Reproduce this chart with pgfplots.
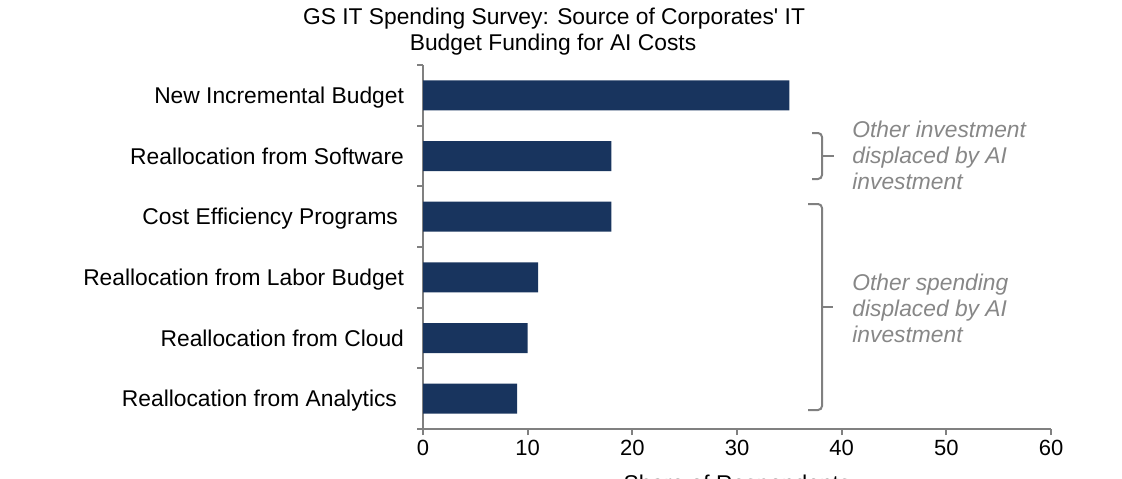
\documentclass[border=0pt]{standalone}
\usepackage{pgfplots}
\pgfplotsset{compat=1.18}
\usepackage{fontspec}
\setmainfont{Liberation Sans}
\definecolor{navy}{RGB}{24,52,94}
\definecolor{axgray}{RGB}{128,128,128}
\definecolor{txtgray}{RGB}{135,135,135}
\begin{document}
\begin{tikzpicture}
\useasboundingbox (0,0) rectangle (561pt,-239pt);
\clip (0,0) rectangle (561pt,-239pt);
\begin{axis}[
  at={(211.5pt,-214.5pt)}, anchor=south west,
  scale only axis, width=314pt, height=182pt,
  xmin=0, xmax=60, ymin=-0.5, ymax=5.5, y dir=reverse,
  xbar, bar width=15pt,
  axis lines*=left, axis line style={-, draw=axgray, line width=0.9pt},
  xtick={0,10,...,60},
  ytick={-0.5,0.5,...,5.5}, yticklabels={},
  tick align=outside, major tick length=3pt,
  tick style={draw=axgray, line width=0.9pt},
  extra y ticks={0,1,2,3,4,5},
  extra y tick labels={New Incremental Budget, Reallocation from Software, Cost Efficiency Programs\hspace*{3pt}, Reallocation from Labor Budget, Reallocation from Cloud, Reallocation from Analytics\hspace*{3.5pt}},
  extra y tick style={tick style={draw=none}},
  yticklabel style={font=\fontsize{11.4}{13}\selectfont, xshift=-3pt, text height=8.2pt, text depth=0pt},
  xticklabel style={font=\fontsize{11}{13}\selectfont, yshift=1pt},
  /pgf/number format/assume math mode=true,
  clip=false,
]
\addplot[fill=navy, draw=none] coordinates {(35,0) (18,1) (18,2) (11,3) (10,4) (9,5)};
\end{axis}
\begin{scope}[x=0.5pt,y=-0.5pt, font=\fontsize{11.4}{13}\selectfont]
\node[anchor=base] at (554,24) {GS IT Spending Survey: Source of Corporates\textquotesingle{} IT};
\node[anchor=base] at (553,50) {Budget Funding for AI Costs};
\node[anchor=north, inner sep=0pt] at (737,475) {Share of Respondents};
\draw[axgray, line width=1pt, rounded corners=2pt] (812,133) -- (822,133) -- (822,179) -- (812,179);
\draw[axgray, line width=1pt] (822,156) -- (834,156);
\draw[axgray, line width=1pt, rounded corners=2pt] (808,204) -- (822,204) -- (822,410) -- (808,410);
\draw[axgray, line width=1pt] (822,307) -- (833,307);
\begin{scope}[every node/.style={anchor=base west, inner sep=0pt, text=txtgray, font=\fontsize{11.4}{13}\selectfont\itshape}]
\node at (852,137) {Other investment};
\node at (852,163) {displaced by AI};
\node at (852,189) {investment};
\node at (852,290) {Other spending};
\node at (852,316) {displaced by AI};
\node at (852,342) {investment};
\end{scope}
\end{scope}
\end{tikzpicture}
\end{document}
